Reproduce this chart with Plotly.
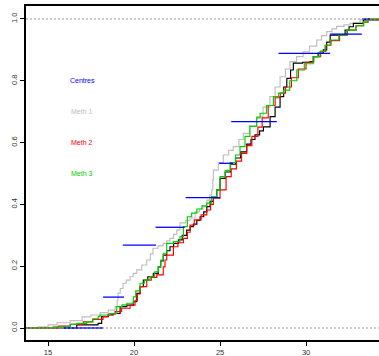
import plotly.graph_objects as go

# ---- data ----
gray_x = [14.42, 15.0, 15.52, 16.28, 16.98, 17.5, 18.02, 18.5, 18.9, 19.02, 19.07, 19.2, 19.36, 19.55, 19.77, 19.95,
          20.16, 20.45, 20.74, 20.95, 21.1, 21.4, 21.69, 21.9, 22.09, 22.3, 22.48, 22.67, 23.0, 23.26, 23.55, 23.8,
          24.01, 24.23, 24.4, 24.52, 24.58, 24.61, 24.9, 25.19, 25.5, 25.77, 26.1, 26.35, 26.7, 27.13, 27.5, 27.9,
          28.2, 28.49, 28.8, 29.07, 29.45, 29.83, 30.2, 30.62, 30.9, 31.2, 31.5, 31.78, 32.2, 32.56, 33.14, 33.5]
gray_y = [0.004, 0.01, 0.017, 0.024, 0.036, 0.042, 0.05, 0.058, 0.069, 0.09, 0.113, 0.128, 0.145, 0.155, 0.166, 0.177,
          0.188, 0.204, 0.22, 0.24, 0.258, 0.266, 0.274, 0.282, 0.29, 0.303, 0.317, 0.34, 0.348, 0.356, 0.376, 0.385,
          0.393, 0.414, 0.43, 0.447, 0.48, 0.511, 0.535, 0.56, 0.575, 0.587, 0.61, 0.63, 0.655, 0.684, 0.715, 0.749,
          0.78, 0.813, 0.838, 0.862, 0.878, 0.894, 0.912, 0.932, 0.946, 0.959, 0.968, 0.976, 0.981, 0.986, 0.997, 1.0]

black_x = [16.67, 17.91, 18.12, 18.5, 18.78, 19.19, 19.58, 19.96, 20.16, 20.35, 20.54, 20.8, 21.12, 21.41, 21.55,
           21.70, 21.9, 22.09, 22.3, 22.58, 22.8, 23.06, 23.26, 23.45, 23.65, 23.84, 24.05, 24.23, 24.42, 24.61,
           24.81, 25.0, 25.3, 25.6, 25.9, 26.2, 26.55, 26.8, 27.03, 27.3, 27.52, 27.91, 28.2, 28.49, 28.7, 28.88,
           29.1, 29.26, 29.8, 30.23, 30.42, 30.7, 31.0, 31.2, 31.4, 32.27, 32.5, 32.75, 33.33]
black_y = [0.01, 0.015, 0.037, 0.042, 0.047, 0.069, 0.074, 0.085, 0.112, 0.134, 0.155, 0.166, 0.177, 0.198, 0.217,
           0.236, 0.25, 0.263, 0.274, 0.285, 0.3, 0.317, 0.328, 0.336, 0.348, 0.36, 0.376, 0.393, 0.41, 0.425,
           0.447, 0.484, 0.505, 0.53, 0.55, 0.57, 0.595, 0.61, 0.625, 0.638, 0.651, 0.684, 0.715, 0.749, 0.78, 0.808,
           0.835, 0.857, 0.86, 0.862, 0.878, 0.89, 0.90, 0.925, 0.948, 0.964, 0.975, 0.986, 0.997]

red_x = [15.6, 16.3, 17.05, 17.6, 18.2, 18.5, 18.9, 19.28, 19.77, 20.06, 20.2, 20.35, 20.74, 21.0, 21.32, 21.7, 21.8,
         21.9, 22.29, 22.55, 22.87, 23.1, 23.26, 23.5, 23.9, 24.23, 24.45, 24.61, 25.0, 25.35, 25.65, 25.95, 26.25,
         26.55, 26.85, 27.2, 27.45, 27.8, 28.2, 28.5, 28.8, 29.15, 29.55, 30.0, 30.45, 30.85, 31.15, 31.45, 31.95,
         32.4, 32.9, 33.35, 33.6]
red_y = [0.006, 0.012, 0.02, 0.028, 0.037, 0.045, 0.053, 0.064, 0.074, 0.09, 0.11, 0.134, 0.155, 0.164, 0.172, 0.198,
         0.22, 0.236, 0.263, 0.276, 0.29, 0.31, 0.333, 0.35, 0.366, 0.382, 0.4, 0.42, 0.447, 0.49, 0.515, 0.54, 0.565,
         0.59, 0.62, 0.65, 0.68, 0.72, 0.745, 0.76, 0.78, 0.81, 0.838, 0.86, 0.878, 0.895, 0.915, 0.93, 0.948,
         0.964, 0.978, 0.99, 1.0]

green_x = [15.31, 16.28, 16.67, 17.25, 17.6, 17.92, 18.02, 18.6, 18.99, 19.3, 19.58, 19.96, 20.1, 20.35, 20.6, 20.93,
           21.2, 21.41, 21.55, 21.7, 21.9, 22.29, 22.67, 22.87, 23.1, 23.35, 23.65, 23.95, 24.23, 24.5, 24.81, 25.0,
           25.3, 25.6, 25.9, 26.16, 26.45, 26.74, 27.13, 27.33, 27.7, 28.1, 28.4, 28.68, 29.05, 29.46, 29.9, 30.41,
           30.81, 31.1, 31.4, 31.9, 32.37, 32.9, 33.33, 33.6]
green_y = [0.004, 0.012, 0.015, 0.02, 0.03, 0.037, 0.042, 0.047, 0.069, 0.075, 0.08, 0.101, 0.12, 0.145, 0.155, 0.166,
           0.182, 0.198, 0.22, 0.242, 0.274, 0.28, 0.296, 0.328, 0.36, 0.372, 0.385, 0.395, 0.404, 0.425, 0.447, 0.49,
           0.51, 0.535, 0.56, 0.587, 0.62, 0.652, 0.68, 0.695, 0.72, 0.749, 0.76, 0.77, 0.8, 0.835, 0.855, 0.878,
           0.895, 0.915, 0.932, 0.948, 0.964, 0.978, 0.99, 1.0]

centre_lo = [15.9, 18.2, 19.35, 21.25, 23.0, 24.95, 25.65, 28.4, 31.4, 33.25]
centre_hi = [18.2, 19.42, 21.28, 22.95, 25.0, 25.76, 28.3, 31.4, 33.24, 33.7]
centre_y = [0.0, 0.10, 0.268, 0.326, 0.422, 0.533, 0.668, 0.889, 0.951, 1.0]

legend_labels = ["Centres", "Meth 1", "Meth 2", "Meth 3"]
legend_y = [0.8, 0.7, 0.6, 0.5]
legend_x = 16.98

x_ticks = [15, 20, 25, 30]
y_ticks = [0.0, 0.2, 0.4, 0.6, 0.8, 1.0]
y_ticktext = ["0.0", "0.2", "0.4", "0.6", "0.8", "1.0"]

XMIN, XMAX = 13.72, 34.24
YMIN, YMAX = -0.0388, 1.042

BLUE = "#0000FF"
GRAY = "#BEBEBE"
RED = "#FF0000"
GREEN = "#00CD00"
BLACK = "#000000"

fig = go.Figure()


def ecdf_trace(xs, ys, color):
    return go.Scatter(x=[XMIN] + list(xs) + [XMAX], y=[0.0] + list(ys) + [1.0],
                      mode="lines", line=dict(color=color, width=1.15, shape="hv"),
                      hoverinfo="skip", showlegend=False)


fig.add_trace(ecdf_trace(gray_x, gray_y, GRAY))
fig.add_trace(ecdf_trace(black_x, black_y, BLACK))
fig.add_trace(ecdf_trace(red_x, red_y, RED))
fig.add_trace(ecdf_trace(green_x, green_y, GREEN))

cx, cy = [], []
for lo, hi, yv in zip(centre_lo, centre_hi, centre_y):
    cx += [lo, hi, None]
    cy += [yv, yv, None]
fig.add_trace(go.Scatter(x=cx, y=cy, mode="lines", line=dict(color=BLUE, width=1.3),
                         hoverinfo="skip", showlegend=False))

for yv in [0.0, 1.0]:
    fig.add_shape(type="line", xref="paper", x0=0, x1=1, yref="y", y0=yv, y1=yv,
                  line=dict(color="#999999", width=1, dash="2px,2px"), layer="above")

for lab, yv, col in zip(legend_labels, legend_y, [BLUE, GRAY, RED, GREEN]):
    fig.add_annotation(x=legend_x, y=yv, text=lab, showarrow=False,
                       font=dict(family="Liberation Sans, Arial", size=7, color=col),
                       xanchor="center", yanchor="middle")

fig.update_layout(
    width=379, height=356,
    margin=dict(l=26, r=0, t=6, b=16, autoexpand=False),
    paper_bgcolor="white", plot_bgcolor="white",
    font=dict(family="Liberation Sans, Arial", size=7.5, color="#333333"),
    showlegend=False,
)
fig.update_xaxes(range=[XMIN, XMAX], tickvals=x_ticks, ticks="outside", ticklen=4, tickwidth=1,
                 tickcolor="#000", showline=True, linecolor="#000", linewidth=1.5, mirror=True,
                 showgrid=False, zeroline=False, automargin=False)
fig.update_yaxes(range=[YMIN, YMAX], tickvals=y_ticks, ticktext=y_ticktext, tickangle=-90,
                 ticks="outside", ticklen=4, tickwidth=1, tickcolor="#000", showline=True,
                 linecolor="#000", linewidth=1.5, showgrid=False, zeroline=False, automargin=False)

fig.write_html("out.html", config={"displayModeBar": False},
               post_script="document.body.style.margin='0px';document.body.style.overflow='hidden';")
